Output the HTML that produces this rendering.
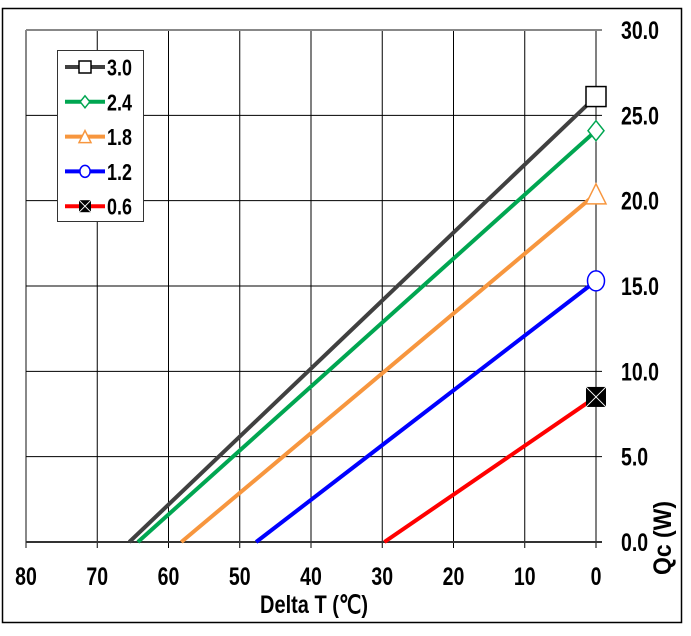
<!DOCTYPE html>
<html><head><meta charset="utf-8"><style>
body{margin:0;background:#fff;}
svg text{font-family:"Liberation Sans",sans-serif;font-weight:bold;fill:#000;}
</style></head><body>
<svg id="c" width="691" height="631" xmlns="http://www.w3.org/2000/svg">
<rect x="2.5" y="8.5" width="679" height="614" fill="#fff" stroke="#000" stroke-width="1.5"/>
<g id="grid"></g>
<g id="series"></g>
<g id="legend"></g>
<text x="314" y="613" font-size="25" text-anchor="middle" transform="translate(314,0) scale(0.8,1) translate(-314,0)">Delta T (℃)</text>
<text x="0" y="0" font-size="25" text-anchor="middle" transform="translate(671,538) rotate(-90) scale(0.92,1)">Qc (W)</text>
</svg>
<script>
const xTicks=[80,70,60,50,40,30,20,10,0];
const yTicks=[0,5,10,15,20,25,30];
const seriesNames=["3.0","2.4","1.8","1.2","0.6"];
const seriesColors=["#404040","#00a651","#f7963e","#0000ff","#ff0000"];
const qmax=[26.1,24.1,20.4,15.3,8.5];
const dtmax=[65.5,64.3,58.2,47.7,29.7];
const NS="http://www.w3.org/2000/svg";
const X=v=>596-v*(570/80);
const Y=v=>542-v*(512/30);
function mk(t,a,p){const e=document.createElementNS(NS,t);for(const k in a)e.setAttribute(k,a[k]);p.appendChild(e);return e;}
const g=document.getElementById('grid');
xTicks.forEach(v=>{
 const l=mk('line',{x1:X(v),x2:X(v),y1:30,y2:548,stroke:v===80?'#888':'#000','stroke-width':v===80?2:1},g);
 
 
 const t=mk('text',{x:X(v),y:585,'font-size':25,'text-anchor':'middle',transform:`translate(${X(v)},0) scale(0.78,1) translate(${-X(v)},0)`},g);
 t.textContent=v;
 
 
});
yTicks.forEach(v=>{
 const l=mk('line',{x1:26,x2:602,y1:Y(v),y2:Y(v),stroke:v===30?'#888':(v===0?'#333':'#000'),'stroke-width':(v===30||v===0)?2:1},g);
 
 
 const t=mk('text',{x:621,y:Y(v)+9,'font-size':25,transform:`translate(621,0) scale(0.78,1) translate(-621,0)`},g);
 t.textContent=v.toFixed(1);
 
 
});
function marker(i,cx,cy,s,p){
 let e;
 if(i===0)e=mk('rect',{x:cx-s,y:cy-s,width:2*s,height:2*s,fill:'#fff',stroke:'#000','stroke-width':1.5},p);
 else if(i===1)e=mk('polygon',{points:`${cx},${cy-s} ${cx+s*0.8},${cy} ${cx},${cy+s} ${cx-s*0.8},${cy}`,fill:'#fff',stroke:seriesColors[1],'stroke-width':1.5},p);
 else if(i===2)e=mk('polygon',{points:`${cx},${cy-s} ${cx+s},${cy+s} ${cx-s},${cy+s}`,fill:'#fff',stroke:seriesColors[2],'stroke-width':1.5},p);
 else if(i===3)e=mk('ellipse',{cx:cx,cy:cy,rx:s*0.85,ry:s,fill:'#fff',stroke:seriesColors[3],'stroke-width':1.5},p);
 else{e=mk('g',{},p);mk('rect',{x:cx-s,y:cy-s,width:2*s,height:2*s,fill:'#000'},e);
  mk('path',{d:`M${cx-s} ${cy-s}L${cx+s} ${cy+s}M${cx+s} ${cy-s}L${cx-s} ${cy+s}`,stroke:'#fff','stroke-width':1},e);}
 return e;
}
const sg=document.getElementById('series');
seriesNames.forEach((n,i)=>{
 const l=mk('line',{x1:X(dtmax[i]),y1:Y(0),x2:X(0),y2:Y(qmax[i]),stroke:seriesColors[i],'stroke-width':4},sg);
 
 
});
seriesNames.forEach((n,i)=>{
 const m=marker(i,X(0),Y(qmax[i]),10,sg);
 
 
});
const lg=document.getElementById('legend');
const box=mk('rect',{x:57.5,y:50.5,width:86,height:171,fill:'#fff',stroke:'#333','stroke-width':1},lg);


seriesNames.forEach((n,i)=>{
 const y=67+i*34.8;
 const e=mk('g',{},lg);
 
 
 mk('line',{x1:65,x2:105,y1:y,y2:y,stroke:seriesColors[i],'stroke-width':4},e);
 marker(i,85,y,6,e);
 const t=mk('text',{x:107,y:y+8.5,'font-size':23,transform:`translate(107,0) scale(0.78,1) translate(-107,0)`},e);
 t.textContent=n;
});
</script>
</body></html>
